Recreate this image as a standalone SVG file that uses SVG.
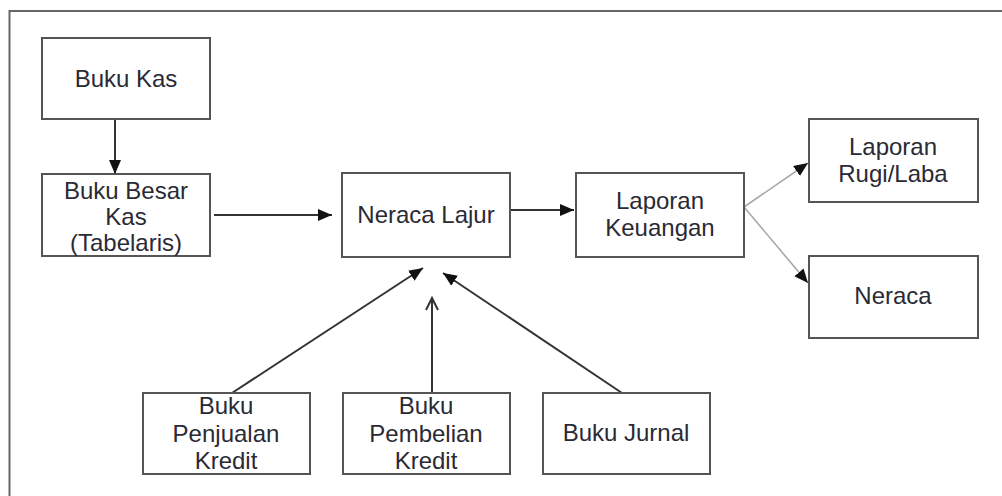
<svg xmlns="http://www.w3.org/2000/svg" width="1002" height="496" viewBox="0 0 1002 496">
<style>
.box{fill:#fff;stroke:#555;stroke-width:2}
.t{font-family:"Liberation Sans",Arial,sans-serif;font-size:24px;fill:#2a2a35;text-anchor:middle}
.ln{stroke:#333;stroke-width:2;fill:none}
.lg{stroke:#a8a8a8;stroke-width:1.6;fill:none}
</style>
<defs>
<marker id="ah" markerUnits="userSpaceOnUse" markerWidth="15" markerHeight="13" refX="14" refY="6" orient="auto">
<path d="M0,0 L14,6 L0,12 z" fill="#111"/>
</marker>
<marker id="ao" markerUnits="userSpaceOnUse" markerWidth="16" markerHeight="16" refX="13" refY="7" orient="auto">
<path d="M1,1 L13,7 L1,13" fill="none" stroke="#333" stroke-width="2"/>
</marker>
</defs>
<path d="M9.5,496 V11 H1002" fill="none" stroke="#666" stroke-width="2"/>
<g id="connectors">
<line class="ln" x1="115" y1="119" x2="115" y2="174" marker-end="url(#ah)"/>
<line class="ln" x1="214" y1="215" x2="332" y2="215" marker-end="url(#ah)"/>
<line class="ln" x1="511" y1="210" x2="574" y2="210" marker-end="url(#ah)"/>
<line class="lg" x1="744" y1="207" x2="808" y2="163" marker-end="url(#ah)"/>
<line class="lg" x1="744" y1="207" x2="808" y2="283" marker-end="url(#ah)"/>
<line class="ln" x1="232" y1="393" x2="423" y2="268" marker-end="url(#ah)"/>
<line class="ln" x1="432" y1="393" x2="432" y2="298" marker-end="url(#ao)"/>
<line class="ln" x1="622" y1="393" x2="443" y2="273" marker-end="url(#ah)"/>
</g>
<g id="buku-kas">
<rect class="box" x="42" y="38" width="168" height="81"/>
<text class="t" x="126" y="87">Buku Kas</text>
</g>
<g id="buku-besar-kas">
<rect class="box" x="42" y="174" width="168" height="82"/>
<text class="t" x="126" y="199">Buku Besar</text>
<text class="t" x="126" y="225">Kas</text>
<text class="t" x="126" y="251">(Tabelaris)</text>
</g>
<g id="neraca-lajur">
<rect class="box" x="342" y="173" width="168" height="84"/>
<text class="t" x="426" y="223">Neraca Lajur</text>
</g>
<g id="laporan-keuangan">
<rect class="box" x="576" y="173" width="168" height="84"/>
<text class="t" x="660" y="209">Laporan</text>
<text class="t" x="660" y="236">Keuangan</text>
</g>
<g id="laporan-rugi-laba">
<rect class="box" x="809" y="119" width="169" height="83"/>
<text class="t" x="893" y="155">Laporan</text>
<text class="t" x="893" y="182">Rugi/Laba</text>
</g>
<g id="neraca">
<rect class="box" x="809" y="256" width="169" height="82"/>
<text class="t" x="893" y="304">Neraca</text>
</g>
<g id="buku-penjualan-kredit">
<rect class="box" x="143" y="393" width="167" height="81"/>
<text class="t" x="226" y="414">Buku</text>
<text class="t" x="226" y="442">Penjualan</text>
<text class="t" x="226" y="469">Kredit</text>
</g>
<g id="buku-pembelian-kredit">
<rect class="box" x="343" y="393" width="167" height="81"/>
<text class="t" x="426" y="414">Buku</text>
<text class="t" x="426" y="442">Pembelian</text>
<text class="t" x="426" y="469">Kredit</text>
</g>
<g id="buku-jurnal">
<rect class="box" x="543" y="393" width="167" height="81"/>
<text class="t" x="626" y="441">Buku Jurnal</text>
</g>
</svg>
